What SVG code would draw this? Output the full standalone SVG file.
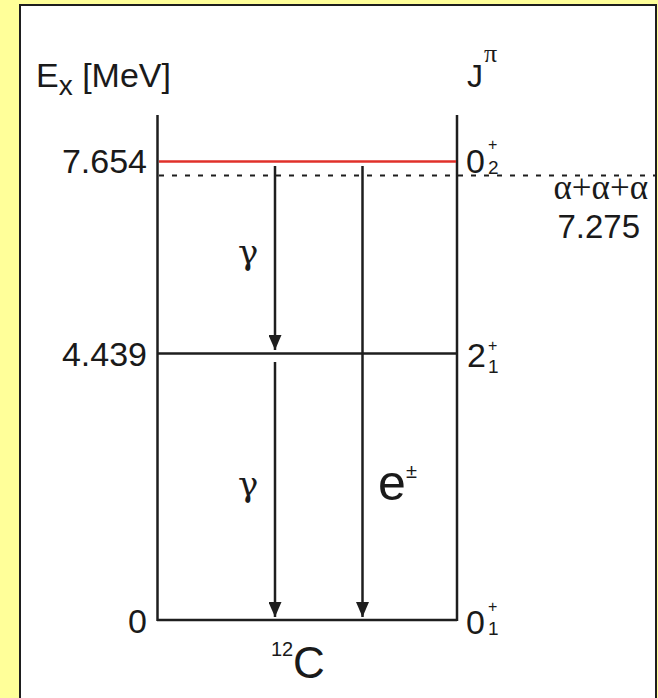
<svg xmlns="http://www.w3.org/2000/svg" width="658" height="698" viewBox="0 0 658 698">
<defs>
<style>
.t{font-family:"Liberation Sans",Arial,sans-serif;fill:#1a1a1a}
.g{font-family:"DejaVu Serif","Liberation Serif",serif;fill:#1a1a1a}
.s{font-family:"Liberation Serif","DejaVu Serif",serif;fill:#1a1a1a}
.ln{stroke:#1e1e1e;stroke-width:2.5;fill:none}
</style>
<marker id="ah" markerWidth="15" markerHeight="13" refX="15" refY="6.5" orient="auto" markerUnits="userSpaceOnUse" viewBox="0 0 15 13">
<path d="M0,0 L15,6.5 L0,13 Z" fill="#1e1e1e"/>
</marker>
</defs>
<rect x="0" y="0" width="658" height="698" fill="#ffff99"/>
<rect x="20" y="5" width="636" height="700" fill="#ffffff" stroke="#1e1e1e" stroke-width="2"/>

<g id="levels">
<line class="ln" x1="157.5" y1="115" x2="157.5" y2="621"/>
<line class="ln" x1="457" y1="115" x2="457" y2="621"/>
<line class="ln" x1="157" y1="620" x2="457" y2="620"/>
<line class="ln" x1="157" y1="353.5" x2="457" y2="353.5"/>
<line x1="159" y1="161.5" x2="456" y2="161.5" stroke="#e0302a" stroke-width="2.5"/>
<line x1="159" y1="175.5" x2="656" y2="175.5" stroke="#1e1e1e" stroke-width="2" stroke-dasharray="5 8"/>
</g>

<g id="connectors">
<line class="ln" x1="275" y1="166" x2="275" y2="350" marker-end="url(#ah)"/>
<line class="ln" x1="275" y1="362" x2="275" y2="617" marker-end="url(#ah)"/>
<line class="ln" x1="362.5" y1="166" x2="362.5" y2="617" marker-end="url(#ah)"/>
</g>

<g id="axis-labels">
<text class="t" x="36" y="87" font-size="34">E<tspan font-size="28" dy="8">x</tspan><tspan dy="-8"> [MeV]</tspan></text>
<text class="t" x="467" y="87" font-size="32">J</text>
<text class="s" x="484" y="62" font-size="26">π</text>
</g>

<g id="level-7654">
<text class="t" x="147" y="173" font-size="34" text-anchor="end">7.654</text>
<text class="t" x="466" y="173" font-size="34">0</text>
<text class="t" x="488" y="150" font-size="16">+</text>
<text class="t" x="488" y="174" font-size="19">2</text>
</g>

<g id="threshold">
<text class="s" x="648" y="199" font-size="35" text-anchor="end">α+α+α</text>
<text class="t" x="640" y="238" font-size="33" text-anchor="end">7.275</text>
</g>

<g id="level-4439">
<text class="t" x="147" y="366" font-size="34" text-anchor="end">4.439</text>
<text class="t" x="467" y="367" font-size="34">2</text>
<text class="t" x="488" y="351" font-size="16">+</text>
<text class="t" x="488" y="373" font-size="19">1</text>
</g>

<g id="level-0">
<text class="t" x="147" y="633" font-size="34" text-anchor="end">0</text>
<text class="t" x="466" y="634" font-size="34">0</text>
<text class="t" x="488" y="612" font-size="16">+</text>
<text class="t" x="488" y="635" font-size="19">1</text>
</g>

<g id="transition-labels">
<text class="g" x="238" y="264" font-size="34">γ</text>
<text class="g" x="238" y="496" font-size="34">γ</text>
<text class="t" x="378" y="500" font-size="50">e</text>
<text class="t" x="406" y="478" font-size="20">±</text>
</g>

<g id="nucleus">
<text class="t" x="271" y="656" font-size="20">12</text>
<text class="t" x="293" y="678" font-size="44">C</text>
</g>
</svg>
